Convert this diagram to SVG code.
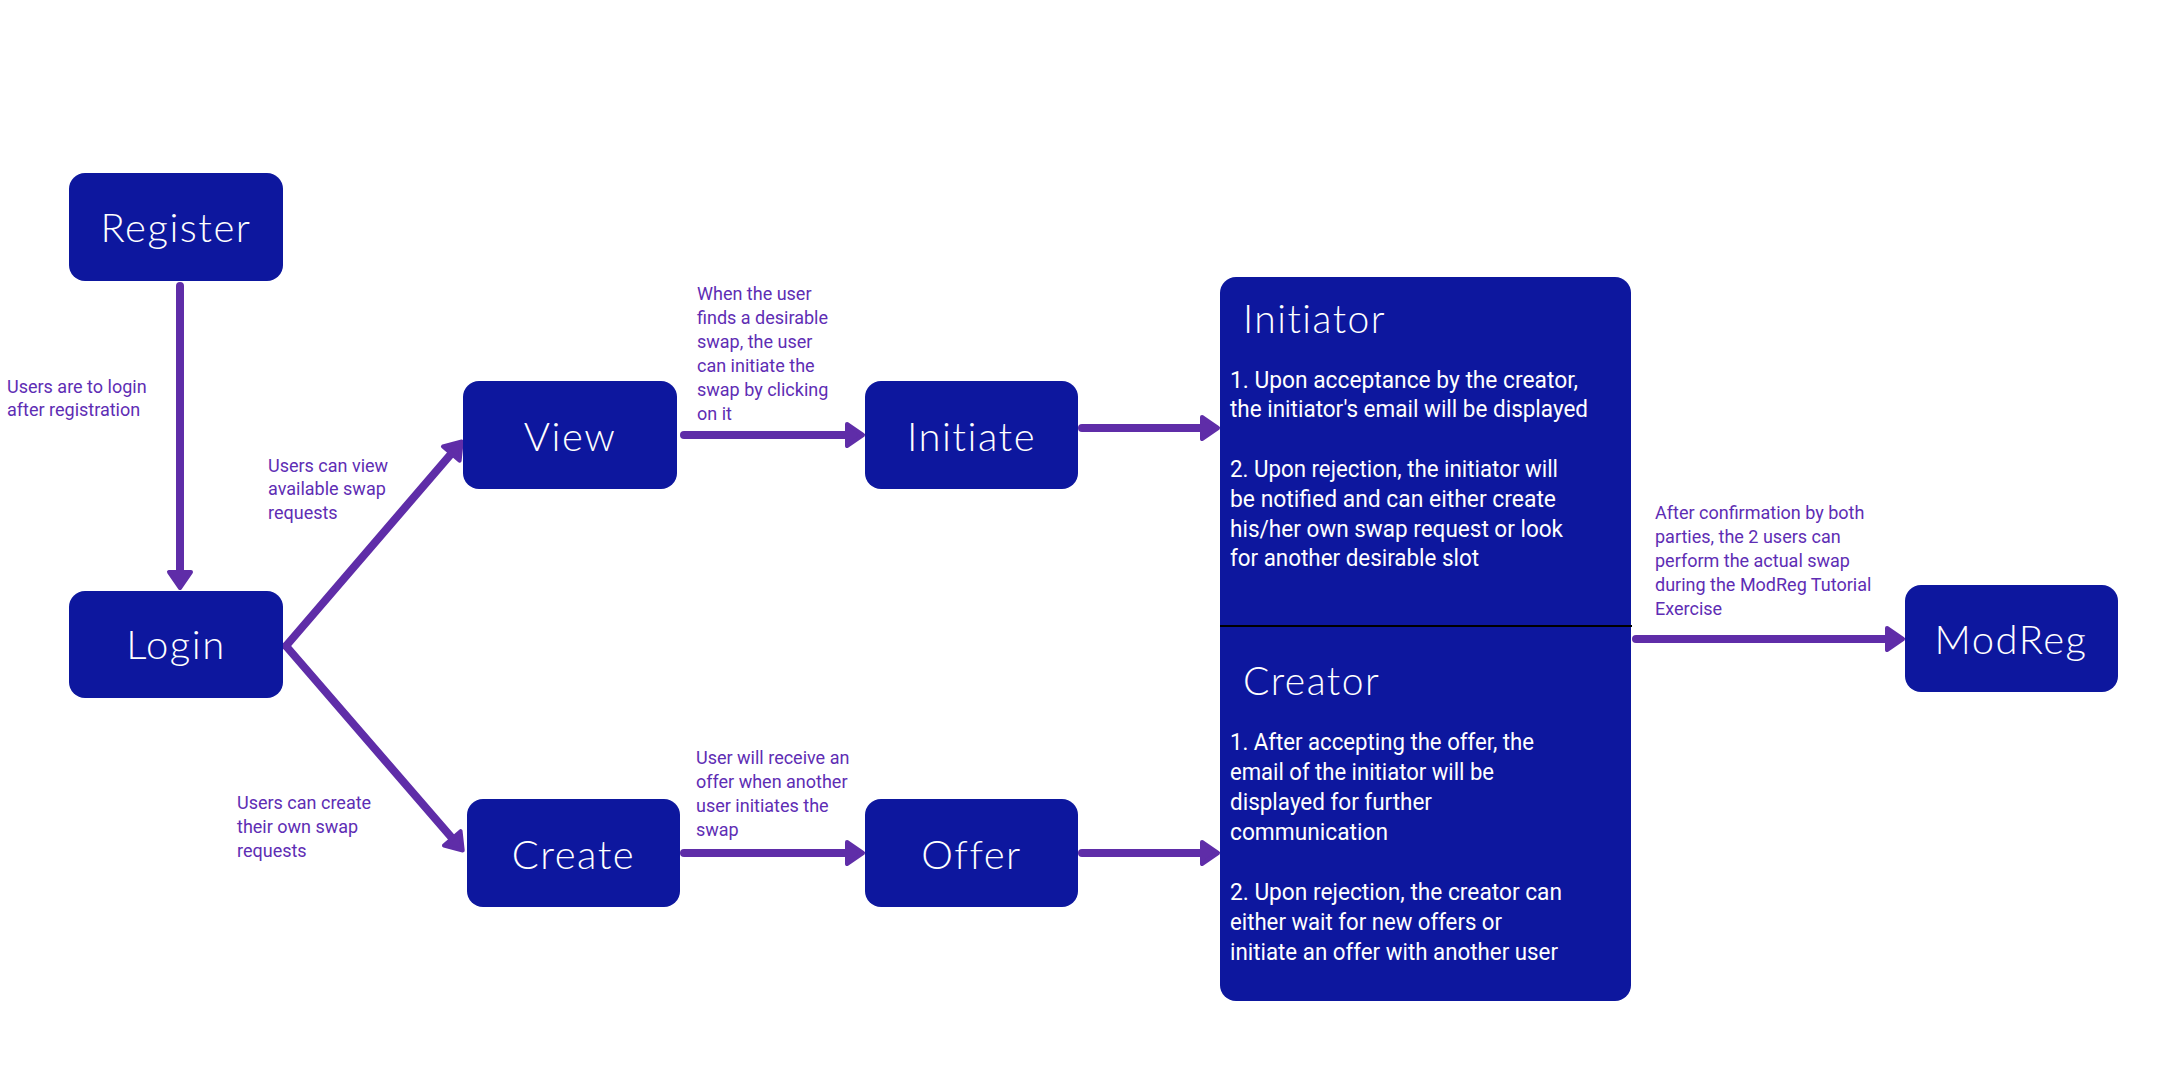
<svg xmlns="http://www.w3.org/2000/svg" width="2164" height="1080" viewBox="0 0 2164 1080">
<style>
.box{fill:#0D179E}
.nl{font-family:Lato,"Open Sans",sans-serif;font-weight:300;font-size:40px;fill:#fff;text-anchor:middle;letter-spacing:1.5px}
.ttl{font-family:Lato,"Open Sans",sans-serif;font-weight:300;font-size:39px;fill:#fff;letter-spacing:1.5px}
.body{font-family:Roboto,"Liberation Sans",sans-serif;font-size:24px;fill:#fff}
.lbl{font-family:Roboto,"Liberation Sans",sans-serif;font-size:18px;fill:#5E2DB4}
.edge{stroke:#5F2DA8;stroke-width:8;stroke-linecap:round;fill:none;marker-end:url(#ah)}
</style>
<defs>
<marker id="ah" markerUnits="userSpaceOnUse" viewBox="-12 -14 24 28" markerWidth="24" markerHeight="28" refX="0" refY="0" orient="auto">
<path d="M-8,-11 L8,0 L-8,11 Z" fill="#5F2DA8" stroke="#5F2DA8" stroke-width="4" stroke-linejoin="round"/>
</marker>
</defs>
<rect width="2164" height="1080" fill="#fff"/>

<g id="connectors">
<line class="edge" x1="180" y1="286" x2="180" y2="580"/>
<line class="edge" x1="286" y1="646" x2="456.5" y2="447.6"/>
<line class="edge" x1="286" y1="646" x2="457.5" y2="844.4"/>
<line class="edge" x1="684" y1="435" x2="855" y2="435"/>
<line class="edge" x1="1082" y1="428" x2="1210" y2="428"/>
<line class="edge" x1="684" y1="853" x2="855" y2="853"/>
<line class="edge" x1="1082" y1="853" x2="1210" y2="853"/>
<line class="edge" x1="1636" y1="639" x2="1895" y2="639"/>
</g>

<g id="labels">
<text class="lbl"><tspan x="7" y="393">Users are to login</tspan><tspan x="7" y="416">after registration</tspan></text>
<text class="lbl"><tspan x="268" y="472">Users can view</tspan><tspan x="268" y="495">available swap</tspan><tspan x="268" y="519">requests</tspan></text>
<text class="lbl"><tspan x="697" y="300">When the user</tspan><tspan x="697" y="324">finds a desirable</tspan><tspan x="697" y="348">swap, the user</tspan><tspan x="697" y="372">can initiate the</tspan><tspan x="697" y="396">swap by clicking</tspan><tspan x="697" y="420">on it</tspan></text>
<text class="lbl"><tspan x="237" y="809">Users can create</tspan><tspan x="237" y="833">their own swap</tspan><tspan x="237" y="857">requests</tspan></text>
<text class="lbl"><tspan x="696" y="764">User will receive an</tspan><tspan x="696" y="788">offer when another</tspan><tspan x="696" y="812">user initiates the</tspan><tspan x="696" y="836">swap</tspan></text>
<text class="lbl"><tspan x="1655" y="519">After confirmation by both</tspan><tspan x="1655" y="543">parties, the 2 users can</tspan><tspan x="1655" y="567">perform the actual swap</tspan><tspan x="1655" y="591">during the ModReg Tutorial</tspan><tspan x="1655" y="615">Exercise</tspan></text>
</g>

<g id="register"><rect class="box" x="69" y="173" width="214" height="108" rx="16"/><text class="nl" x="176" y="242">Register</text></g>
<g id="login"><rect class="box" x="69" y="591" width="214" height="107" rx="16"/><text class="nl" x="176" y="659">Login</text></g>
<g id="view"><rect class="box" x="463" y="381" width="214" height="108" rx="16"/><text class="nl" x="570" y="451">View</text></g>
<g id="initiate"><rect class="box" x="865" y="381" width="213" height="108" rx="16"/><text class="nl" x="971.5" y="451">Initiate</text></g>
<g id="create"><rect class="box" x="467" y="799" width="213" height="108" rx="16"/><text class="nl" x="573.5" y="869">Create</text></g>
<g id="offer"><rect class="box" x="865" y="799" width="213" height="108" rx="16"/><text class="nl" x="971.5" y="869">Offer</text></g>
<g id="modreg"><rect class="box" x="1905" y="585" width="213" height="107" rx="16"/><text class="nl" x="2011" y="654">ModReg</text></g>

<g id="roles">
<rect class="box" x="1220" y="277" width="411" height="724" rx="16"/>
<line x1="1220" y1="626" x2="1632" y2="626" stroke="#000" stroke-width="2"/>
<text class="ttl" x="1243" y="333">Initiator</text>
<text class="body" x="1230" y="388" textLength="348" lengthAdjust="spacingAndGlyphs">1. Upon acceptance by the creator,</text>
<text class="body" x="1230" y="417" textLength="358" lengthAdjust="spacingAndGlyphs">the initiator's email will be displayed</text>
<text class="body" x="1230" y="477" textLength="328" lengthAdjust="spacingAndGlyphs">2. Upon rejection, the initiator will</text>
<text class="body" x="1230" y="507" textLength="326" lengthAdjust="spacingAndGlyphs">be notified and can either create</text>
<text class="body" x="1230" y="537" textLength="333" lengthAdjust="spacingAndGlyphs">his/her own swap request or look</text>
<text class="body" x="1230" y="566" textLength="249" lengthAdjust="spacingAndGlyphs">for another desirable slot</text>
<text class="ttl" x="1243" y="695">Creator</text>
<text class="body" x="1230" y="750" textLength="304" lengthAdjust="spacingAndGlyphs">1. After accepting the offer, the</text>
<text class="body" x="1230" y="780" textLength="264" lengthAdjust="spacingAndGlyphs">email of the initiator will be</text>
<text class="body" x="1230" y="810" textLength="202" lengthAdjust="spacingAndGlyphs">displayed for further</text>
<text class="body" x="1230" y="840" textLength="158" lengthAdjust="spacingAndGlyphs">communication</text>
<text class="body" x="1230" y="900" textLength="332" lengthAdjust="spacingAndGlyphs">2. Upon rejection, the creator can</text>
<text class="body" x="1230" y="930" textLength="272" lengthAdjust="spacingAndGlyphs">either wait for new offers or</text>
<text class="body" x="1230" y="960" textLength="328" lengthAdjust="spacingAndGlyphs">initiate an offer with another user</text>
</g>
</svg>
